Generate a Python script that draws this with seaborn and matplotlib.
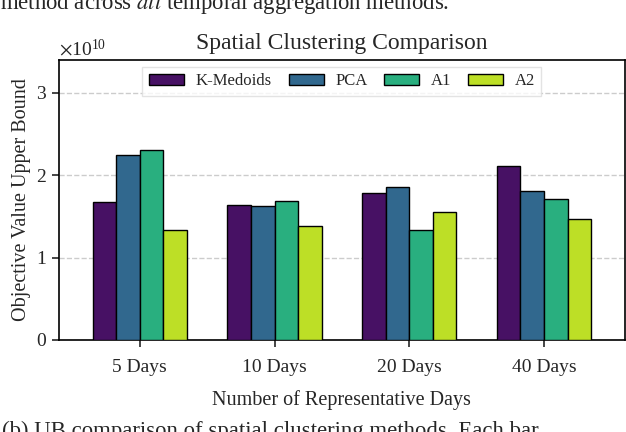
import pandas as pd
import numpy as np
import seaborn as sns
import matplotlib.pyplot as plt
from matplotlib.ticker import ScalarFormatter

# datos (en unidades de 1e10)
dias = ["5 Days", "10 Days", "20 Days", "40 Days"]
metodos = ["K-Medoids", "PCA", "A1", "A2"]
k_medoids = [1.68, 1.64, 1.79, 2.11]
pca = [2.25, 1.63, 1.86, 1.81]
a1 = [2.31, 1.69, 1.34, 1.71]
a2 = [1.33, 1.38, 1.56, 1.47]
colores = ["#471164", "#31688e", "#29af7f", "#bddf26"]

series = [k_medoids, pca, a1, a2]
df = pd.DataFrame({
    "dias": np.tile(dias, len(metodos)),
    "metodo": np.repeat(metodos, len(dias)),
    "valor": np.concatenate(series) * 1e10,
})

sns.set_style("ticks")
plt.rcParams["font.family"] = ["Liberation Serif", "DejaVu Serif"]
plt.rcParams["mathtext.fontset"] = "stix"

fig = plt.figure(figsize=(6.26, 4.32), dpi=100)
ax = fig.add_axes([0.0942, 0.213, 0.904, 0.648])

sns.barplot(
    data=df, x="dias", y="valor", hue="metodo",
    order=dias, hue_order=metodos, palette=colores, saturation=1,
    width=0.7, edgecolor="black", linewidth=1, ax=ax, zorder=3
)

ax.set_xlim(-0.6, 3.6)
ax.set_ylim(0, 3.4e10)
ax.set_yticks([0, 1e10, 2e10, 3e10])
fmt = ScalarFormatter(useMathText=True)
fmt.set_powerlimits((0, 0))
ax.yaxis.set_major_formatter(fmt)
ax.yaxis.get_offset_text().set_fontsize(14)
ax.yaxis.grid(True, linestyle="--", color="#cccccc", linewidth=1, zorder=0)
ax.set_axisbelow(True)

for s in ax.spines.values():
    s.set_linewidth(1.2)
    s.set_color("black")
ax.tick_params(axis="both", labelsize=14, length=5, width=1.2)
ax.tick_params(axis="x", pad=9)

ax.set_title("Spatial Clustering Comparison", fontsize=17, pad=8)
ax.set_xlabel("Number of Representative Days", fontsize=14.5, labelpad=10)
ax.set_ylabel("Objective Value Upper Bound", fontsize=14.5)

ax.legend(
    loc="upper center", ncol=4, fontsize=12, frameon=True,
    handlelength=2.1, handleheight=0.7, handletextpad=0.7, columnspacing=1.0,
    edgecolor="#dddddd", fancybox=False, borderaxespad=0.4
)

# texto del articulo alrededor de la figura
fig.text(0.0, 1 - 9 / 432, r"method across $\mathit{all}$ temporal aggregation methods.",
         fontsize=16.4, va="baseline", ha="left")
fig.text(0.003, -5 / 432, "(b) UB comparison of spatial clustering methods. Each bar",
         fontsize=16.4, va="baseline", ha="left")

plt.savefig("out.png", dpi=100)
